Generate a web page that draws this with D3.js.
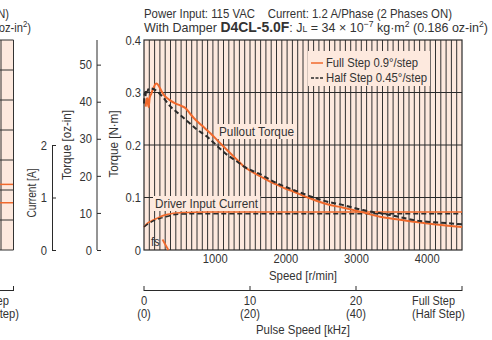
<!DOCTYPE html>
<html><head><meta charset="utf-8">
<script src="https://cdn.jsdelivr.net/npm/d3@7"></script>
<style>
body{margin:0;background:#fff;}
text{font-family:"Liberation Sans Narrow","Arial Narrow","Liberation Sans",Arial,sans-serif;font-size:13px;fill:#333;}
</style></head><body>
<svg id="c" width="492" height="340"></svg>
<script>
// ---------- data ----------
const speedTicks = [1000, 2000, 3000, 4000];
const torqueTicks = [0, 0.1, 0.2, 0.3, 0.4];
const ozinTicks = [0, 10, 20, 30, 40, 50];
const currentTicks = [0, 1, 2];
const pulseSpeedsRpm = [0, 1500, 3000, 4500];
const pulseLabelsFull = ["0", "10", "20"];
const pulseLabelsHalf = ["(0)", "(20)", "(40)"];
const gridStepRpm = 75;

// [speed r/min, torque N·m]
const fullTorque = [[24,0.273],[35,0.286],[47,0.289],[58,0.277],[66,0.272],[80,0.29],[104,0.298],[125,0.306],[142,0.311],[160,0.316],[180,0.317],[215,0.311],[250,0.302],[283,0.295],[360,0.286],[448,0.279],[520,0.275],[590,0.27],[650,0.26],[708,0.251],[820,0.237],[943,0.222],[1060,0.206],[1179,0.19],[1300,0.174],[1415,0.159],[1530,0.149],[1651,0.14],[1770,0.131],[1887,0.124],[2000,0.117],[2123,0.111],[2240,0.104],[2358,0.098],[2480,0.092],[2595,0.087],[2806,0.081],[3000,0.075],[3340,0.0635],[3600,0.058],[3811,0.054],[4100,0.049],[4500,0.044]];
const halfTorque = [[0,0.279],[12,0.3],[20,0.292],[30,0.305],[45,0.3],[60,0.306],[94,0.308],[140,0.306],[189,0.302],[280,0.289],[377,0.273],[470,0.262],[566,0.251],[660,0.24],[755,0.229],[850,0.22],[943,0.21],[1060,0.195],[1179,0.181],[1300,0.17],[1415,0.159],[1530,0.151],[1651,0.144],[1770,0.135],[1887,0.127],[2123,0.114],[2358,0.102],[2595,0.092],[2806,0.086],[3100,0.076],[3481,0.0667],[3906,0.0552],[4200,0.052],[4500,0.049]];
// [speed r/min, current A]
const fullCurrent = [[0,0.44],[50,0.51],[100,0.55],[179,0.6],[260,0.65],[340,0.68],[415,0.7],[550,0.712],[700,0.72],[900,0.724],[4500,0.724]];
const halfCurrent = [[0,0.44],[60,0.5],[179,0.58],[300,0.63],[415,0.67],[550,0.685],[700,0.69],[4500,0.69]];
// starting characteristic fs [speed r/min, torque N·m]
const fsCurve = [[262,0.02],[345,0]];
// neighbouring (cropped) chart: grid values and current lines
const leftGrid = [0,0.1,0.2,0.3,0.4,0.5,0.6,0.7];
const leftCurrents = [0.125, 0.09];

// ---------- setup ----------
const svg = d3.select("#c");
const orange = "#f0692c", dark = "#2a2a2a", peach = "#fde9de", gridC = "#333";
const SQ = 0.86; // condensed-type factor

function fit(sel, w) {
  const n = sel.node();
  const L = n.getComputedTextLength();
  sel.attr("textLength", w != null ? w : L * SQ).attr("lengthAdjust", "spacingAndGlyphs");
  return sel;
}

const x = d3.scaleLinear().domain([0, 4500]).range([144, 462]);
const y = d3.scaleLinear().domain([0, 0.4]).range([250, 40]);
const yOz = d3.scaleLinear().domain([0, 0.4 / 0.0070616]).range([250, 40]);
const yA = d3.scaleLinear().domain([0, 2]).range([250, 145]);
const yI = d3.scaleLinear().domain([0, 4]).range([250, 40]); // current plotted in main area

// ---------- cropped neighbouring chart at left edge ----------
const yL = d3.scaleLinear().domain([0, 0.7]).range([250, 40]);
const lg = svg.append("g");
lg.append("rect").attr("x", -20).attr("y", 40).attr("width", 33.5).attr("height", 210).attr("fill", peach);
lg.selectAll("line.h").data(leftGrid).join("line")
  .attr("x1", 0).attr("x2", 13.5).attr("y1", d => yL(d)).attr("y2", d => yL(d))
  .attr("stroke", gridC).attr("stroke-width", 1);
lg.append("line").attr("x1", 13.5).attr("x2", 13.5).attr("y1", 40).attr("y2", 250).attr("stroke", gridC);
lg.append("line").attr("x1", 1).attr("x2", 1).attr("y1", 40).attr("y2", 250).attr("stroke", gridC);
lg.selectAll("line.o").data(leftCurrents).join("line")
  .attr("x1", 0).attr("x2", 13).attr("y1", d => yI(d * 10)).attr("y2", d => yI(d * 10))
  .attr("stroke", orange).attr("stroke-width", 1.5);
lg.append("line").attr("x1", 0).attr("x2", 13.5).attr("y1", 290.5).attr("y2", 290.5).attr("stroke", dark);
lg.append("line").attr("x1", 13.5).attr("x2", 13.5).attr("y1", 286).attr("y2", 291).attr("stroke", dark);
lg.append("text").attr("x", 9).attr("y", 18).attr("text-anchor", "end").attr("font-size", "14px").text("N)");
const lt = lg.append("text").attr("x", 31).attr("y", 32).attr("text-anchor", "end").attr("font-size", "14px");
lt.append("tspan").text("oz-in");
lt.append("tspan").attr("dy", -5).attr("font-size", "9px").text("2");
lt.append("tspan").attr("dy", 5).text(")");
lg.append("text").attr("x", 9).attr("y", 305).attr("text-anchor", "end").attr("font-size", "14px").text("ep");
lg.append("text").attr("x", 19).attr("y", 318).attr("text-anchor", "end").attr("font-size", "14px").text("tep)");

// ---------- main plot background and grid ----------
svg.append("rect").attr("x", x(0)).attr("y", y(0.4)).attr("width", x(4500) - x(0)).attr("height", y(0) - y(0.4)).attr("fill", peach);
svg.append("g").selectAll("line").data(d3.range(gridStepRpm, 4500, gridStepRpm)).join("line")
  .attr("x1", d => x(d)).attr("x2", d => x(d)).attr("y1", y(0.4)).attr("y2", y(0))
  .attr("stroke", gridC).attr("stroke-width", 1);
svg.append("g").selectAll("line").data(torqueTicks.slice(1, -1)).join("line")
  .attr("x1", x(0)).attr("x2", x(4500)).attr("y1", d => y(d)).attr("y2", d => y(d))
  .attr("stroke", dark).attr("stroke-width", 1.2);
svg.append("rect").attr("x", x(0)).attr("y", y(0.4)).attr("width", x(4500) - x(0)).attr("height", y(0) - y(0.4))
  .attr("fill", "none").attr("stroke", dark).attr("stroke-width", 1.2);

// label boxes
function boxLabel(txt, x0, yb, w) {
  const t = svg.append("text").attr("x", x0).attr("y", yb).attr("font-size", "14px").text(txt);
  fit(t, w);
  const b = t.node().getBBox();
  svg.insert("rect", () => t.node()).attr("x", b.x - 2).attr("y", b.y).attr("width", b.width + 4).attr("height", b.height).attr("fill", peach);
}
boxLabel("Pullout Torque", 219, 136, 75);
boxLabel("Driver Input Current", 155, 208, 103);

// legend box
svg.append("rect").attr("x", 308).attr("y", 51).attr("width", 122).attr("height", 35).attr("fill", peach);
svg.append("line").attr("x1", 311).attr("x2", 323).attr("y1", 63).attr("y2", 63).attr("stroke", orange).attr("stroke-width", 1.5);
svg.append("line").attr("x1", 311).attr("x2", 323).attr("y1", 78).attr("y2", 78).attr("stroke", dark).attr("stroke-width", 1.3).attr("stroke-dasharray", "3,1.5");
fit(svg.append("text").attr("x", 326).attr("y", 67).attr("font-size", "14px").text("Full Step 0.9°/step"), 92);
fit(svg.append("text").attr("x", 326).attr("y", 82).attr("font-size", "14px").text("Half Step 0.45°/step"), 101);

// ---------- curves ----------
const lineT = d3.line().x(d => x(d[0])).y(d => y(d[1])).curve(d3.curveMonotoneX);
const lineI = d3.line().x(d => x(d[0])).y(d => yI(d[1])).curve(d3.curveMonotoneX);
svg.append("path").attr("d", lineI(fullCurrent)).attr("fill", "none").attr("stroke", orange).attr("stroke-width", 1.6);
svg.append("path").attr("d", lineI(halfCurrent)).attr("fill", "none").attr("stroke", dark).attr("stroke-width", 1.5).attr("stroke-dasharray", "5,3");
svg.append("path").attr("d", lineT(fullTorque)).attr("fill", "none").attr("stroke", orange).attr("stroke-width", 2);
svg.append("path").attr("d", lineT(halfTorque)).attr("fill", "none").attr("stroke", dark).attr("stroke-width", 2).attr("stroke-dasharray", "5,3");
svg.append("path").attr("d", d3.line().x(d => x(d[0])).y(d => y(d[1]))(fsCurve)).attr("fill", "none").attr("stroke", orange).attr("stroke-width", 1.8);
svg.append("text").attr("x", 151).attr("y", 246).attr("font-size", "14px").text("fs");

// ---------- axes ----------
const ax = svg.append("g").attr("transform", `translate(${x(0)},0)`)
  .call(d3.axisLeft(y).tickValues(torqueTicks).tickSize(0).tickPadding(3).tickFormat(d => d === 0 ? "0" : d3.format(".1f")(d)));
ax.select(".domain").remove();
ax.selectAll("text").attr("font-size", "14px").attr("fill", "#333");

const axB = svg.append("g").attr("transform", `translate(0,${y(0)})`)
  .call(d3.axisBottom(x).tickValues(speedTicks).tickSize(0).tickPadding(4).tickFormat(d => String(d)));
axB.select(".domain").remove();
axB.selectAll("text").attr("font-size", "14px").attr("fill", "#333");

const axOz = svg.append("g").attr("transform", "translate(97,0)")
  .call(d3.axisLeft(yOz).tickValues(ozinTicks).tickSize(-4).tickSizeOuter(0).tickPadding(5).tickFormat(d => String(d)));
axOz.select(".domain").attr("d", `M0,${yOz.range()[0]}V${yOz.range()[1]}`).attr("stroke", dark);
axOz.selectAll("line").attr("stroke", dark);
axOz.selectAll("text").attr("font-size", "14px").attr("fill", "#333");

const axA = svg.append("g").attr("transform", "translate(52,0)")
  .call(d3.axisLeft(yA).tickValues(currentTicks).tickSize(-4).tickSizeOuter(0).tickPadding(5).tickFormat(d => String(d)));
axA.select(".domain").attr("stroke", dark);
axA.selectAll("line").attr("stroke", dark);
axA.selectAll("text").attr("font-size", "14px").attr("fill", "#333");

// pulse speed axis
const pg = svg.append("g");
pg.append("line").attr("x1", x(0)).attr("x2", x(4500)).attr("y1", 290.5).attr("y2", 290.5).attr("stroke", dark);
pg.selectAll("line.t").data(pulseSpeedsRpm).join("line")
  .attr("x1", d => x(d)).attr("x2", d => x(d)).attr("y1", 286).attr("y2", 291).attr("stroke", dark);
pg.selectAll("text.f").data(pulseLabelsFull).join("text")
  .attr("x", (d, i) => x(pulseSpeedsRpm[i])).attr("y", 305).attr("text-anchor", "middle").attr("font-size", "14px").text(d => d);
pg.selectAll("text.h").data(pulseLabelsHalf).join("text")
  .attr("x", (d, i) => x(pulseSpeedsRpm[i])).attr("y", 318).attr("text-anchor", "middle").attr("font-size", "14px").text(d => d);
fit(pg.append("text").attr("x", 412).attr("y", 305).attr("font-size", "14px").text("Full Step"), 43);
fit(pg.append("text").attr("x", 412).attr("y", 318).attr("font-size", "14px").text("(Half Step)"), 53);

// axis titles
fit(svg.append("text").attr("x", 303).attr("y", 280).attr("text-anchor", "middle").attr("font-size", "14px").text("Speed [r/min]"), 68);
fit(svg.append("text").attr("x", 303).attr("y", 334).attr("text-anchor", "middle").attr("font-size", "14px").text("Pulse Speed [kHz]"), 94);
fit(svg.append("text").attr("transform", "translate(118,144) rotate(-90)").attr("text-anchor", "middle").attr("font-size", "14px").text("Torque [N·m]"), 67);
fit(svg.append("text").attr("transform", "translate(71,145) rotate(-90)").attr("text-anchor", "middle").attr("font-size", "14px").text("Torque [oz-in]"), 70);
fit(svg.append("text").attr("transform", "translate(36,193) rotate(-90)").attr("text-anchor", "middle").attr("font-size", "14px").text("Current [A]"), 49);

// title
fit(svg.append("text").attr("x", 144).attr("y", 18).attr("font-size", "14px").attr("xml:space", "preserve").text("Power Input: 115 VAC    Current: 1.2 A/Phase (2 Phases ON)"), 308);
const t2 = svg.append("text").attr("x", 144).attr("y", 32).attr("font-size", "14px");
t2.append("tspan").text("With Damper ");
t2.append("tspan").attr("font-weight", "bold").attr("font-size", "14.5px").text("D4CL-5.0F");
t2.append("tspan").text(": J");
t2.append("tspan").attr("font-size", "9px").text("L");
t2.append("tspan").text(" = 34 × 10");
t2.append("tspan").attr("dy", -5).attr("font-size", "9px").text("−7");
t2.append("tspan").attr("dy", 5).text(" kg·m");
t2.append("tspan").attr("dy", -5).attr("font-size", "9px").text("2");
t2.append("tspan").attr("dy", 5).text(" (0.186 oz-in");
t2.append("tspan").attr("dy", -5).attr("font-size", "9px").text("2");
t2.append("tspan").attr("dy", 5).text(")");
fit(t2, 344);

// condense the remaining texts
svg.selectAll("text").each(function () {
  const s = d3.select(this);
  if (!s.attr("textLength")) fit(s);
});
</script></body></html>
